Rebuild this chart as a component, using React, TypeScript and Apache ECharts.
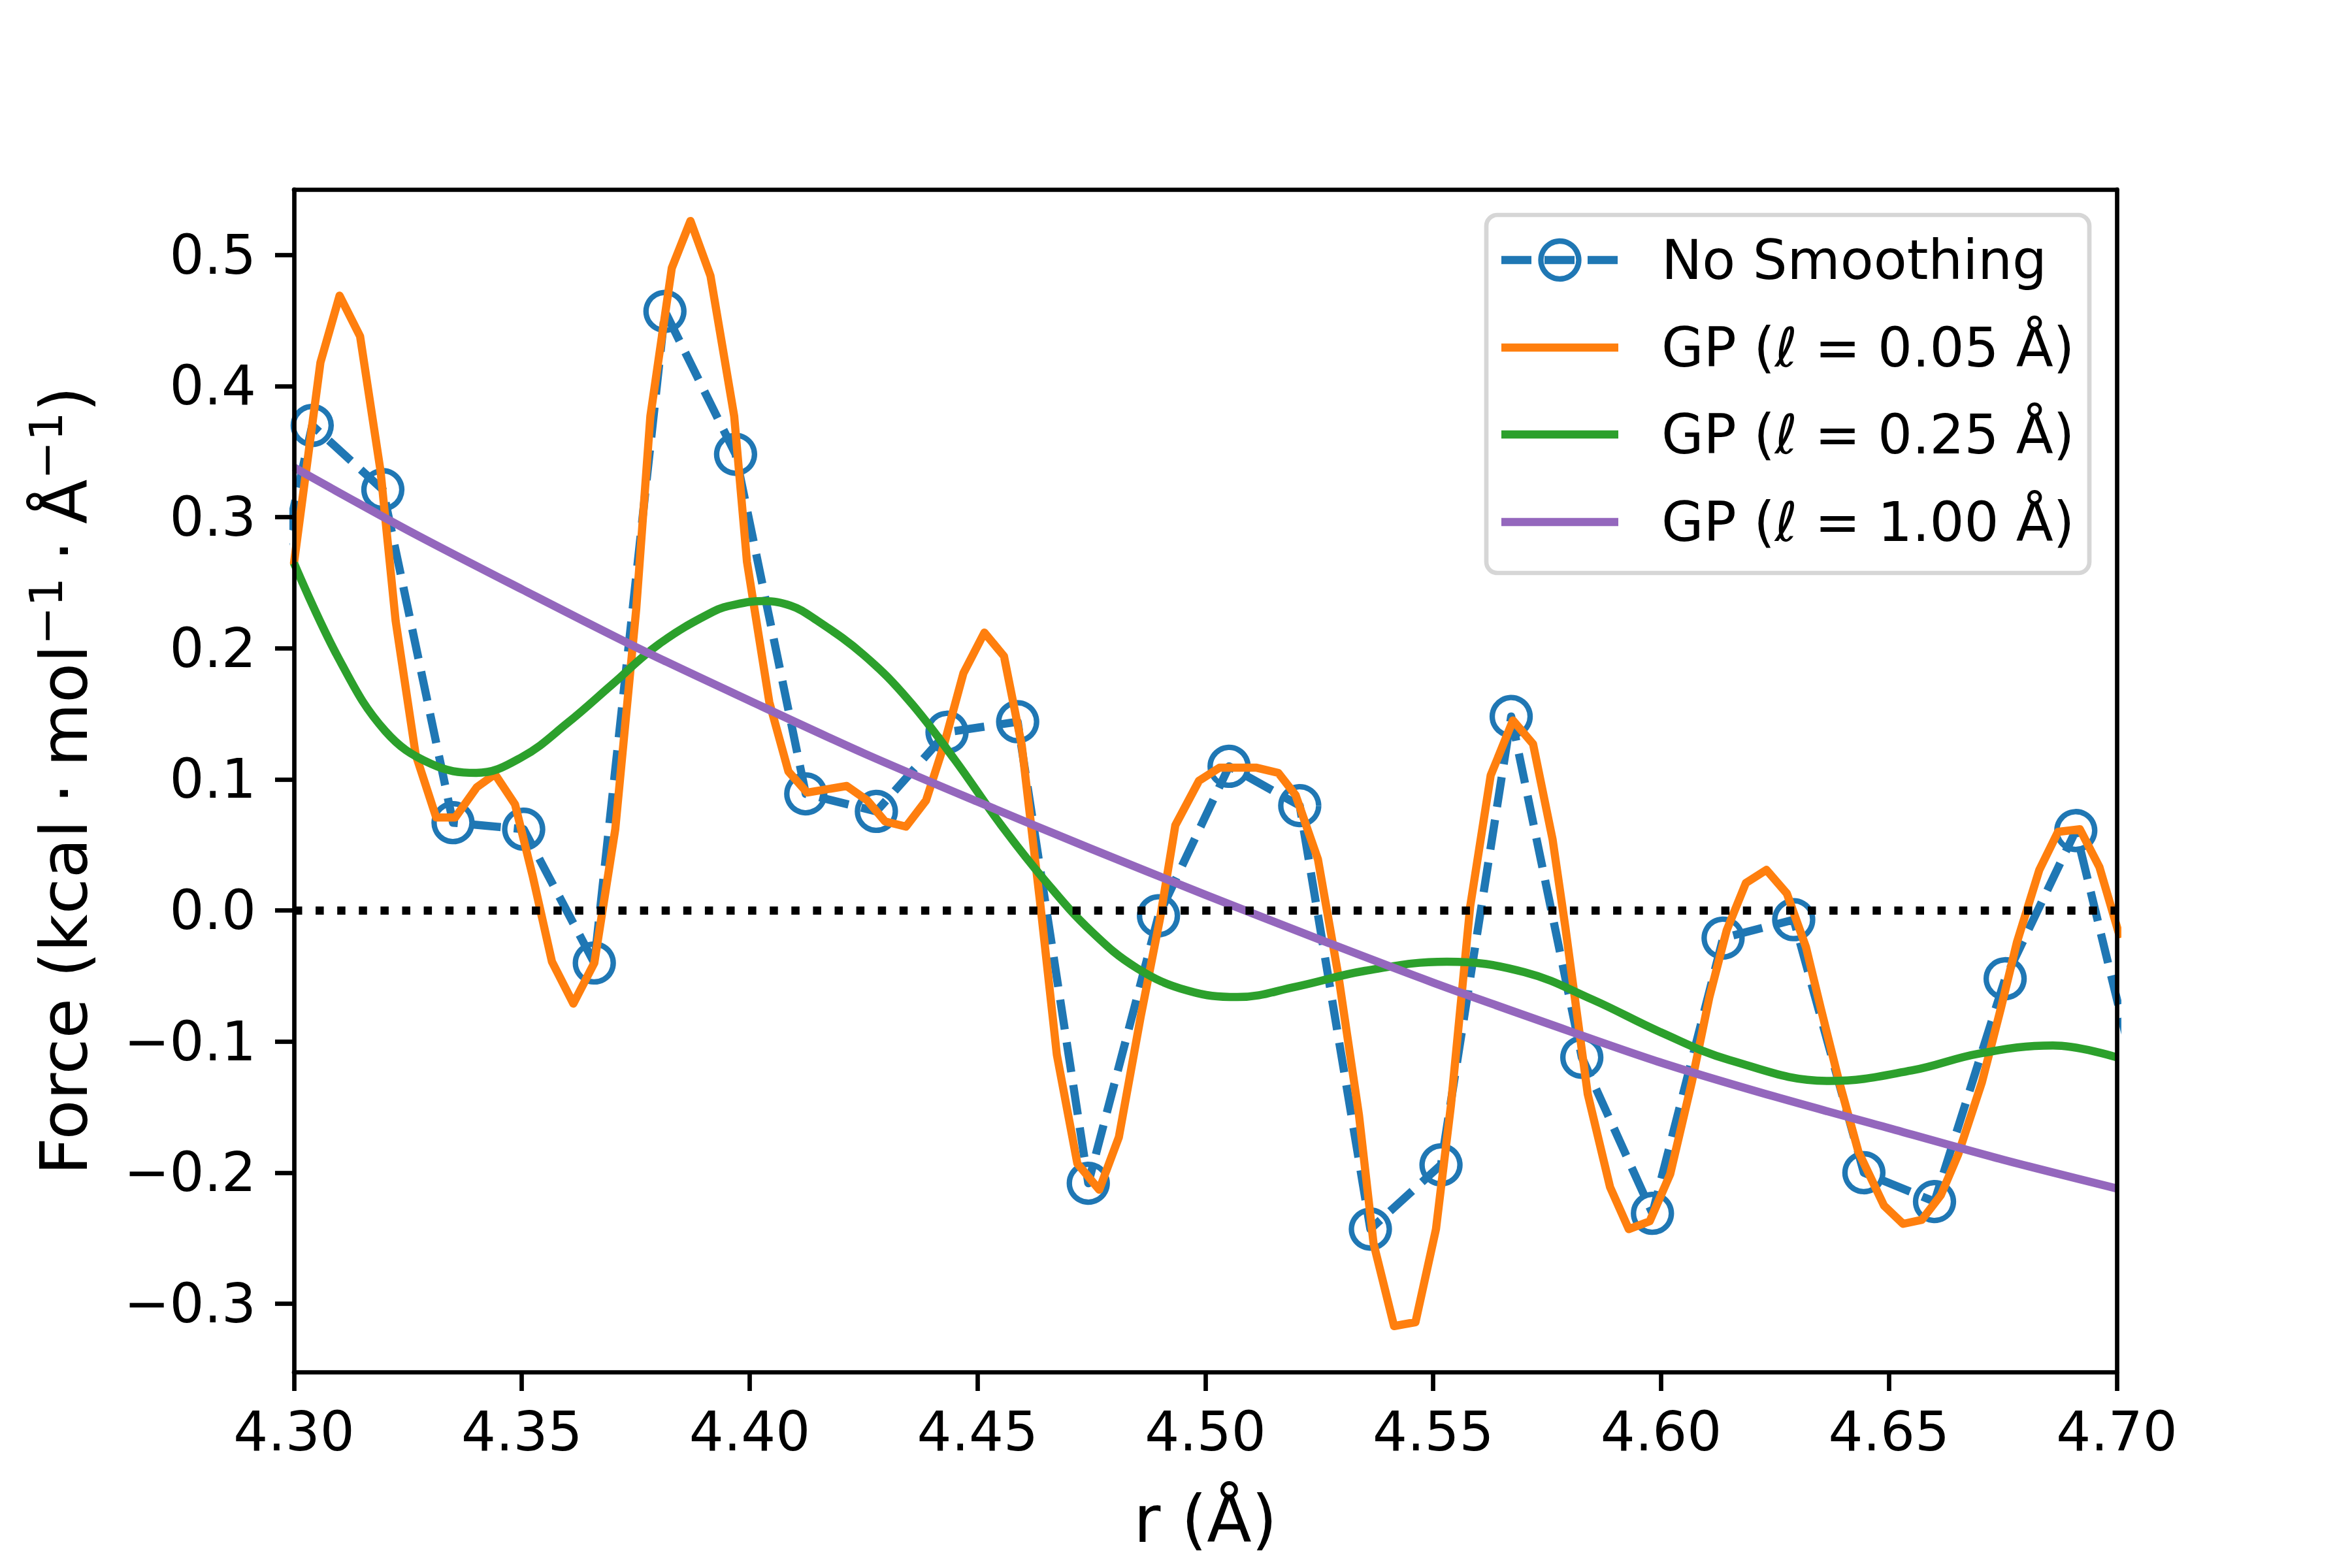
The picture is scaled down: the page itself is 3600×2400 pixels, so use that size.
import React, { useEffect, useRef } from "react";
import * as echarts from "echarts";

const FONT = "DejaVu Sans";

// Raw (unsmoothed) force samples
const rawR = [4.2885, 4.304, 4.3195, 4.3349, 4.3504, 4.3659, 4.3814, 4.3969, 4.4123, 4.4278, 4.4433, 4.4588, 4.4743, 4.4897, 4.5052, 4.5207, 4.5362, 4.5517, 4.5671, 4.5826, 4.5981, 4.6136, 4.6291, 4.6445, 4.66, 4.6755, 4.691, 4.7065];
const rawF = [0.13, 0.37, 0.321, 0.067, 0.062, -0.04, 0.457, 0.348, 0.089, 0.0756, 0.136, 0.144, -0.208, -0.004, 0.11, 0.08, -0.243, -0.194, 0.148, -0.112, -0.231, -0.021, -0.007, -0.2, -0.222, -0.052, 0.061, -0.16];

// GP, l = 0.05 Å
const gp005R = [4.3, 4.3058, 4.31, 4.3145, 4.319, 4.3223, 4.3267, 4.3312, 4.3354, 4.3401, 4.3441, 4.3485, 4.3524, 4.3566, 4.3613, 4.3659, 4.3705, 4.3751, 4.3782, 4.3829, 4.387, 4.3914, 4.3966, 4.3994, 4.4043, 4.4085, 4.4126, 4.4213, 4.4258, 4.4297, 4.4343, 4.4387, 4.4426, 4.4469, 4.4515, 4.4558, 4.4597, 4.4638, 4.4674, 4.4719, 4.4767, 4.481, 4.4858, 4.4901, 4.4934, 4.4986, 4.5031, 4.5111, 4.516, 4.5198, 4.5247, 4.5292, 4.5337, 4.5369, 4.5414, 4.5461, 4.5506, 4.5539, 4.5581, 4.5626, 4.5675, 4.5719, 4.5762, 4.579, 4.5839, 4.5888, 4.5929, 4.5975, 4.602, 4.6068, 4.6106, 4.6144, 4.6186, 4.6231, 4.6276, 4.6318, 4.635, 4.6391, 4.6433, 4.6489, 4.6531, 4.6572, 4.6614, 4.6652, 4.6704, 4.6746, 4.6781, 4.683, 4.6871, 4.6919, 4.6962, 4.7005];
const gp005F = [0.265, 0.418, 0.469, 0.438, 0.335, 0.221, 0.119, 0.071, 0.071, 0.094, 0.104, 0.081, 0.026, -0.039, -0.071, -0.04, 0.062, 0.23, 0.377, 0.49, 0.526, 0.484, 0.377, 0.266, 0.159, 0.106, 0.09, 0.095, 0.084, 0.068, 0.064, 0.084, 0.126, 0.181, 0.212, 0.194, 0.126, 0.004, -0.11, -0.193, -0.213, -0.173, -0.081, -0.005, 0.065, 0.099, 0.109, 0.109, 0.105, 0.088, 0.039, -0.05, -0.156, -0.254, -0.317, -0.314, -0.243, -0.148, 0.003, 0.103, 0.145, 0.127, 0.054, -0.013, -0.14, -0.211, -0.243, -0.237, -0.201, -0.13, -0.066, -0.015, 0.021, 0.031, 0.013, -0.028, -0.074, -0.131, -0.184, -0.225, -0.239, -0.236, -0.217, -0.186, -0.131, -0.074, -0.024, 0.031, 0.06, 0.062, 0.033, -0.018];

// GP, l = 0.25 Å (samples, including its turning points)
const gp025R = [4.3, 4.31, 4.32, 4.33, 4.34, 4.35, 4.36, 4.37, 4.38, 4.392, 4.397, 4.403, 4.409, 4.414, 4.425, 4.435, 4.445, 4.455, 4.465, 4.475, 4.485, 4.496, 4.507, 4.52, 4.535, 4.553, 4.57, 4.585, 4.6, 4.615, 4.637, 4.655, 4.67, 4.686, 4.7];
const gp025F = [0.265, 0.191, 0.137, 0.112, 0.105, 0.117, 0.143, 0.173, 0.203, 0.228, 0.2335, 0.236, 0.2325, 0.223, 0.195, 0.16, 0.115, 0.066, 0.022, -0.016, -0.044, -0.061, -0.066, -0.058, -0.046, -0.039, -0.047, -0.068, -0.093, -0.114, -0.13, -0.122, -0.109, -0.103, -0.112];

// GP, l = 1.00 Å
const gp100R = [4.3, 4.325, 4.35, 4.375, 4.4, 4.425, 4.45, 4.475, 4.5, 4.525, 4.55, 4.575, 4.6, 4.625, 4.65, 4.675, 4.7];
const gp100F = [0.338, 0.29, 0.245, 0.201, 0.16, 0.12, 0.083, 0.047, 0.012, -0.022, -0.055, -0.086, -0.116, -0.142, -0.166, -0.19, -0.212];

const xTicks = [4.3, 4.35, 4.4, 4.45, 4.5, 4.55, 4.6, 4.65, 4.7];
const yTicks = [-0.3, -0.2, -0.1, 0, 0.1, 0.2, 0.3, 0.4, 0.5];
const zeroLineR = [4.3, 4.7];
const zeroLineF = [0, 0];

const seriesNames = ["No Smoothing", "GP (\u2113 = 0.05 \u00c5)", "GP (\u2113 = 0.25 \u00c5)", "GP (\u2113 = 1.00 \u00c5)"];
const seriesColors = ["#1f77b4", "#ff7f0e", "#2ca02c", "#9467bd"];

const X_MIN = 4.3;
const X_MAX = 4.7;
const Y_MIN = -0.352;
const Y_MAX = 0.55;

const LW = 12.5;
const SPINE = 6.7;
const TICK_FS = 83.3;
const LABEL_FS = 100;

function pairs(xs: number[], ys: number[]) {
  return xs.map((x, i) => [x, ys[i]]);
}

function fmtY(v: number) {
  if (Math.abs(v) < 1e-9) return "0.0";
  return (v < 0 ? "\u2212" : "") + Math.abs(v).toFixed(1);
}

function buildLegend() {
  const left = 2275;
  const top = 329;
  const w = 923;
  const h = 548;
  const lineX1 = 2298;
  const lineX2 = 2477;
  const textX = 2543;
  const rowY = [398, 532, 665, 799];
  const children: any[] = [
    {
      type: "rect",
      shape: { x: left, y: top, width: w, height: h, r: 17 },
      style: { fill: "rgba(255,255,255,0.8)", stroke: "rgba(204,204,204,0.8)", lineWidth: SPINE },
      z: 100,
    },
  ];
  seriesNames.forEach((name, i) => {
    children.push({
      type: "line",
      shape: { x1: lineX1, y1: rowY[i], x2: lineX2, y2: rowY[i] },
      style: {
        stroke: seriesColors[i],
        lineWidth: LW,
        lineDash: i === 0 ? [46, 20] : null,
        lineCap: "butt",
      },
      z: 101,
    });
    if (i === 0) {
      children.push({
        type: "circle",
        shape: { cx: (lineX1 + lineX2) / 2, cy: rowY[i], r: 29 },
        style: { fill: "none", stroke: seriesColors[i], lineWidth: 8.3 },
        z: 102,
      });
    }
    children.push({
      type: "text",
      x: textX,
      y: rowY[i],
      style: {
        text: name,
        fontSize: TICK_FS,
        fontFamily: FONT,
        fill: "#000",
        align: "left",
        verticalAlign: "middle",
      },
      z: 102,
    });
  });
  return children;
}

export default function App() {
  const ref = useRef<HTMLDivElement>(null);
  useEffect(() => {
    if (!ref.current) return;
    const chart = echarts.init(ref.current, null, { renderer: "svg" });
    const axisCommon = {
      type: "value" as const,
      splitLine: { show: false },
      z: 10,
    };
    const sp = "\u2005";
    const option: any = {
      animation: false,
      backgroundColor: "#ffffff",
      textStyle: { fontFamily: FONT },
      grid: { left: 450, right: 360, top: 290, bottom: 300, outerBoundsMode: "none", containLabel: false },
      xAxis: [
        {
          ...axisCommon,
          min: X_MIN,
          max: X_MAX,
          position: "bottom",
          axisLine: { show: true, onZero: false, lineStyle: { color: "#000", width: SPINE } },
          axisTick: { show: true, inside: false, length: 29, lineStyle: { color: "#000", width: SPINE }, customValues: xTicks },
          axisLabel: {
            show: true,
            margin: 50,
            customValues: xTicks,
            formatter: (v: number) => v.toFixed(2),
            fontSize: TICK_FS,
            lineHeight: TICK_FS,
            fontFamily: FONT,
            color: "#000",
          },
          name: "r (\u00c5)",
          nameLocation: "middle",
          nameGap: 175,
          nameTextStyle: { fontSize: LABEL_FS, lineHeight: LABEL_FS, fontFamily: FONT, color: "#000" },
        },
        {
          ...axisCommon,
          min: X_MIN,
          max: X_MAX,
          position: "top",
          axisLine: { show: true, onZero: false, lineStyle: { color: "#000", width: SPINE } },
          axisTick: { show: false },
          axisLabel: { show: false },
        },
      ],
      yAxis: [
        {
          ...axisCommon,
          min: Y_MIN,
          max: Y_MAX,
          position: "left",
          axisLine: { show: true, onZero: false, lineStyle: { color: "#000", width: SPINE } },
          axisTick: { show: true, inside: false, length: 29, lineStyle: { color: "#000", width: SPINE }, customValues: yTicks },
          axisLabel: {
            show: true,
            margin: 58,
            customValues: yTicks,
            formatter: fmtY,
            fontSize: TICK_FS,
            fontFamily: FONT,
            color: "#000",
          },
          name: "Force (kcal" + sp + "\u00b7" + sp + "mol{s|\u22121}" + sp + "\u00b7" + sp + "\u00c5{s|\u22121})",
          nameLocation: "middle",
          nameRotate: 90,
          nameGap: 290,
          nameTextStyle: {
            fontSize: LABEL_FS,
            lineHeight: 124,
            fontFamily: FONT,
            color: "#000",
            rich: {
              s: { fontSize: 70, lineHeight: 70, fontFamily: FONT, color: "#000", verticalAlign: "top" },
            },
          },
        },
        {
          ...axisCommon,
          min: Y_MIN,
          max: Y_MAX,
          position: "right",
          axisLine: { show: true, onZero: false, lineStyle: { color: "#000", width: SPINE } },
          axisTick: { show: false },
          axisLabel: { show: false },
        },
      ],
      series: [
        {
          name: seriesNames[0],
          type: "line",
          data: pairs(rawR, rawF),
          xAxisIndex: 0,
          yAxisIndex: 0,
          clip: true,
          symbol: "circle",
          symbolSize: 58,
          showSymbol: true,
          itemStyle: { color: "rgba(0,0,0,0)", borderColor: seriesColors[0], borderWidth: 8.3 },
          lineStyle: { color: seriesColors[0], width: LW, type: [46, 20], cap: "butt", join: "round" },
          z: 2,
        },
        {
          name: seriesNames[1],
          type: "line",
          data: pairs(gp005R, gp005F),
          clip: true,
          showSymbol: false,
          symbol: "none",
          lineStyle: { color: seriesColors[1], width: LW, join: "round", cap: "round" },
          z: 3,
        },
        {
          name: seriesNames[2],
          type: "line",
          data: pairs(gp025R, gp025F),
          clip: true,
          showSymbol: false,
          symbol: "none",
          smooth: 0.4,
          lineStyle: { color: seriesColors[2], width: LW, join: "round" },
          z: 4,
        },
        {
          name: seriesNames[3],
          type: "line",
          data: pairs(gp100R, gp100F),
          clip: true,
          showSymbol: false,
          symbol: "none",
          smooth: 0.3,
          lineStyle: { color: seriesColors[3], width: LW, join: "round" },
          z: 5,
        },
        {
          name: "zero",
          type: "line",
          data: pairs(zeroLineR, zeroLineF),
          clip: true,
          showSymbol: false,
          symbol: "none",
          lineStyle: { color: "#000", width: LW, type: [12.5, 20.6], cap: "butt" },
          z: 6,
        },
      ],
      graphic: buildLegend(),
    };
    chart.setOption(option);
    return () => chart.dispose();
  }, []);
  return (
    <div
      ref={ref}
      style={{ position: "fixed", left: 0, top: 0, width: 3600, height: 2400, background: "#fff" }}
    />
  );
}
